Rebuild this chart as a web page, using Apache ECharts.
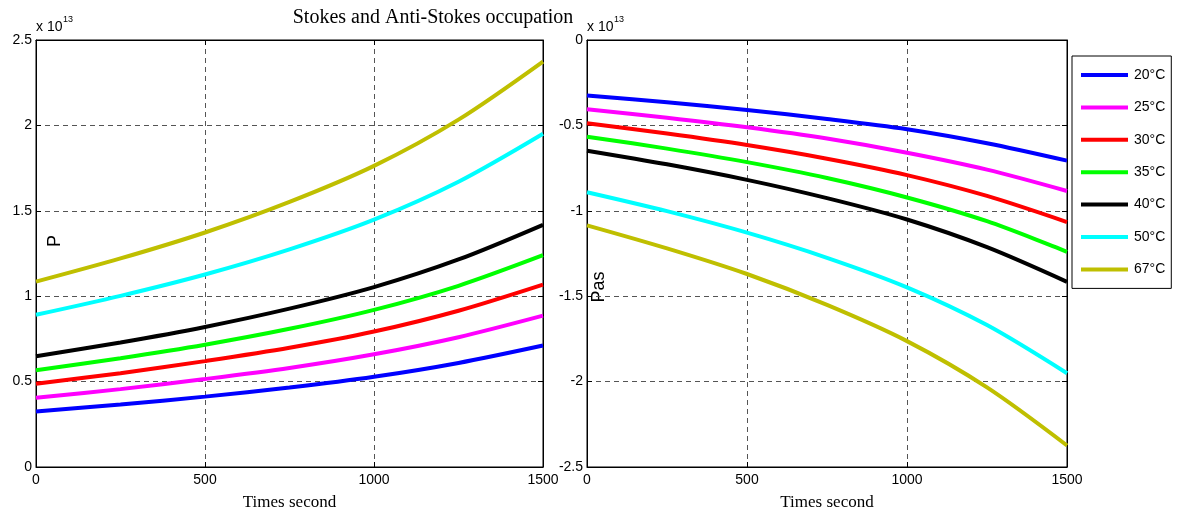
<!DOCTYPE html>
<html>
<head>
<meta charset="utf-8">
<script src="https://cdn.jsdelivr.net/npm/echarts@6/dist/echarts.min.js"></script>
<style>
  html, body { margin: 0; padding: 0; background: #fff; overflow: hidden; }
  #main { width: 1180px; height: 516px; }
</style>
</head>
<body>
<div id="main"></div>
<script>
// time axis (s), values in units of 1e13
var times = [0, 250, 500, 750, 1000, 1250, 1500];
var names = ['20°C', '25°C', '30°C', '35°C', '40°C', '50°C', '67°C'];
var colors = ['#0000ff', '#ff00ff', '#ff0000', '#00ff00', '#000000', '#00ffff', '#bfbf00'];

// Stokes occupation P
var p20 = [0.325, 0.366, 0.412, 0.465, 0.528, 0.609, 0.711];
var p25 = [0.405, 0.456, 0.515, 0.580, 0.660, 0.760, 0.886];
var p30 = [0.488, 0.549, 0.620, 0.698, 0.793, 0.915, 1.068];
var p35 = [0.566, 0.637, 0.716, 0.809, 0.920, 1.061, 1.240];
var p40 = [0.648, 0.729, 0.820, 0.927, 1.053, 1.215, 1.418];
var p50 = [0.891, 1.002, 1.127, 1.274, 1.448, 1.670, 1.951];
var p67 = [1.085, 1.221, 1.373, 1.552, 1.763, 2.034, 2.374];

// Anti-Stokes occupation Pas
var pas20 = [-0.325, -0.365, -0.410, -0.462, -0.522, -0.604, -0.706];
var pas25 = [-0.405, -0.455, -0.511, -0.577, -0.660, -0.759, -0.884];
var pas30 = [-0.488, -0.548, -0.615, -0.695, -0.791, -0.913, -1.066];
var pas35 = [-0.566, -0.636, -0.715, -0.808, -0.922, -1.061, -1.240];
var pas40 = [-0.648, -0.728, -0.819, -0.926, -1.051, -1.213, -1.416];
var pas50 = [-0.891, -1.002, -1.128, -1.275, -1.448, -1.669, -1.951];
var pas67 = [-1.085, -1.220, -1.370, -1.551, -1.763, -2.034, -2.374];

var pList = [p20, p25, p30, p35, p40, p50, p67];
var pasList = [pas20, pas25, pas30, pas35, pas40, pas50, pas67];

var tickFont = 'Liberation Sans';
var serifFont = 'Liberation Serif';

function pairs(vals) {
    var out = [];
    for (var i = 0; i < times.length; i++) {
        out.push([times[i], vals[i]]);
    }
    return out;
}

function xAx(idx) {
    return {
        type: 'value', gridIndex: idx, min: 0, max: 1500, interval: 500,
        name: 'Times second', nameLocation: 'middle', nameGap: 27,
        nameTextStyle: { fontFamily: serifFont, fontSize: 17, color: '#000' },
        axisLine: { show: true, onZero: false, lineStyle: { color: '#000', width: 1 } },
        axisTick: { show: true, inside: true, length: 5, lineStyle: { color: '#000' } },
        axisLabel: { fontFamily: tickFont, fontSize: 14, color: '#000', margin: 6,
            formatter: function (v) { return String(v); } },
        splitLine: { show: true, lineStyle: { color: '#555', type: [5, 4], width: 1 } }
    };
}
function xTop(idx) {
    return {
        type: 'value', gridIndex: idx, min: 0, max: 1500, interval: 500, position: 'top',
        axisLine: { show: true, onZero: false, lineStyle: { color: '#000' } },
        axisTick: { show: true, inside: true, length: 5, lineStyle: { color: '#000' } },
        axisLabel: { show: false }, splitLine: { show: false }
    };
}
function yAx(idx, min, max) {
    return {
        type: 'value', gridIndex: idx, min: min, max: max, interval: 0.5,
        axisLine: { show: true, onZero: false, lineStyle: { color: '#000', width: 1 } },
        axisTick: { show: true, inside: true, length: 5, lineStyle: { color: '#000' } },
        axisLabel: { fontFamily: tickFont, fontSize: 14, color: '#000', margin: 4 },
        splitLine: { show: true, lineStyle: { color: '#555', type: [5, 4], width: 1 } }
    };
}
function yRight(idx, min, max) {
    return {
        type: 'value', gridIndex: idx, min: min, max: max, interval: 0.5, position: 'right',
        axisLine: { show: true, onZero: false, lineStyle: { color: '#000' } },
        axisTick: { show: true, inside: true, length: 5, lineStyle: { color: '#000' } },
        axisLabel: { show: false }, splitLine: { show: false }
    };
}

var series = [];
for (var i = 0; i < names.length; i++) {
    series.push({
        name: names[i], type: 'line', xAxisIndex: 0, yAxisIndex: 0,
        data: pairs(pList[i]), smooth: 0.3, showSymbol: false,
        lineStyle: { color: colors[i], width: 4 }, itemStyle: { color: colors[i] }
    });
}
for (var j = 0; j < names.length; j++) {
    series.push({
        name: names[j], type: 'line', xAxisIndex: 2, yAxisIndex: 2,
        data: pairs(pasList[j]), smooth: 0.3, showSymbol: false,
        lineStyle: { color: colors[j], width: 4 }, itemStyle: { color: colors[j] }
    });
}

// "x 10^13" exponent marks
function expLabel(x) {
    return [
        { type: 'text', left: x, top: 20, style: { text: 'x 10', fontFamily: tickFont, fontSize: 14, fill: '#000' } },
        { type: 'text', left: x + 27, top: 15, style: { text: '13', fontFamily: tickFont, fontSize: 9, fill: '#000' } }
    ];
}

var myChart = echarts.init(document.getElementById('main'));
var option = {
    backgroundColor: '#fff',
    animation: false,
    title: {
        text: 'Stokes and Anti-Stokes occupation',
        left: 428, top: 3, textAlign: 'center',
        textStyle: { fontFamily: serifFont, fontSize: 20, fontWeight: 'normal', color: '#000' }
    },
    grid: [
        { left: 36, width: 507, top: 40, height: 433, show: true, borderColor: '#000', borderWidth: 1 },
        { left: 587, width: 480, top: 40, height: 433, show: true, borderColor: '#000', borderWidth: 1 }
    ],
    xAxis: [xAx(0), xTop(0), xAx(1), xTop(1)],
    yAxis: [yAx(0, 0, 2.5), yRight(0, 0, 2.5), yAx(1, -2.5, 0), yRight(1, -2.5, 0)],
    legend: {
        orient: 'vertical', left: 1072, top: 56,
        data: names, icon: 'rect', itemWidth: 47, itemHeight: 4, itemGap: 18.4,
        padding: [12, 6, 12, 9],
        borderColor: '#000', borderWidth: 1, backgroundColor: '#fff',
        textStyle: { fontFamily: tickFont, fontSize: 14, color: '#000', padding: [0, 0, 0, 1] }
    },
    graphic: expLabel(36).concat(expLabel(587)).concat([
        { type: 'text', x: 55, y: 241, rotation: Math.PI / 2,
          style: { text: 'P', fontFamily: tickFont, fontSize: 18, fill: '#000', align: 'center', verticalAlign: 'middle' } },
        { type: 'text', x: 599, y: 287, rotation: Math.PI / 2,
          style: { text: 'Pas', fontFamily: tickFont, fontSize: 18, fill: '#000', align: 'center', verticalAlign: 'middle' } }
    ]),
    series: series
};
myChart.setOption(option);
</script>
</body>
</html>
